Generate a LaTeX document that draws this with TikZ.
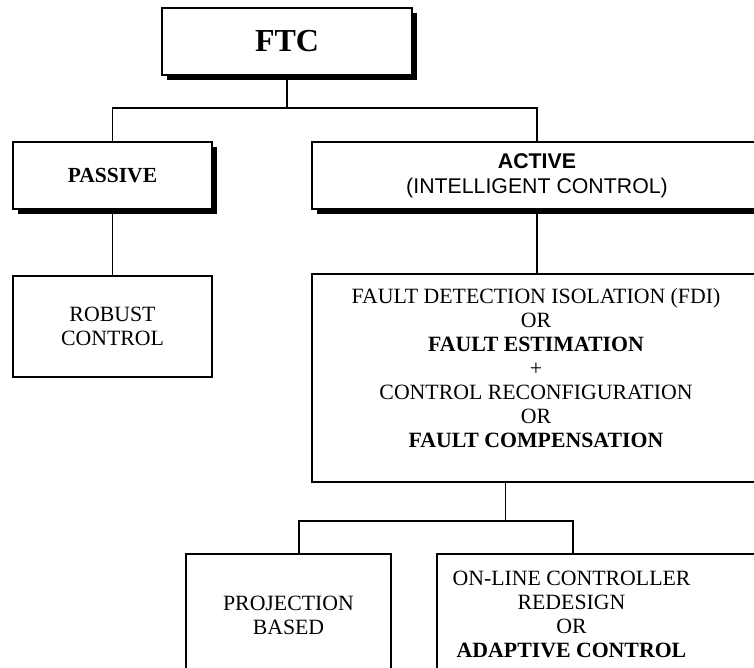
\documentclass[tikz,border=0pt]{standalone}
\usepackage{fontspec}
\setmainfont{Liberation Serif}
\newfontfamily\arialfont{Liberation Sans}
\usetikzlibrary{shadows}
\begin{document}
\begin{tikzpicture}[x=1pt,y=-1pt,
  box/.style={draw, line width=1.8pt, fill=white, inner sep=0pt, align=center,
    font=\fontsize{21.8}{24}\selectfont},
  shadowbox/.style={box, drop shadow={shadow xshift=5pt, shadow yshift=-5pt,
    fill=black, opacity=1}},
  boxtext/.style={inner sep=0pt, align=center, font=\fontsize{21.8}{24}\selectfont},
  link/.style={line width=1.8pt},
  thinlink/.style={line width=1pt}]
\useasboundingbox (0,0) rectangle (754,668);
\clip (0,0) rectangle (754,668);

% top level
\node[shadowbox, minimum width=250pt, minimum height=67pt,
  font=\fontsize{32}{36}\selectfont\bfseries] (ftc) at (287,41.5) {FTC};

% second level
\node[shadowbox, minimum width=199pt, minimum height=67pt, font=\fontsize{21.5}{24}\selectfont\bfseries]
  (pas) at (112.5,175.5) {PASSIVE};
\node[shadowbox, minimum width=450pt, minimum height=67pt,
  font=\fontsize{21.3}{25}\selectfont\arialfont]
  (act) at (537,175.5) {\textbf{ACTIVE}\\(INTELLIGENT CONTROL)};

% third level
\node[box, minimum width=199pt, minimum height=101pt] (rob) at (112.5,326.5)
  {ROBUST\\CONTROL};
\node[box, minimum width=450pt, minimum height=208pt] (fdi) at (537,378) {};
\node[boxtext] (fditxt) at (536,368) {FAULT DETECTION ISOLATION (FDI)\\OR\\
  \textbf{FAULT ESTIMATION}\\+\\CONTROL RECONFIGURATION\\OR\\
  \textbf{FAULT COMPENSATION}};

% fourth level
\node[box, minimum width=205pt, minimum height=123pt] (proj) at (288.5,615.5)
  {PROJECTION\\BASED};
\node[box, minimum width=363pt, minimum height=120pt] (onl) at (618.5,614) {};
\node[boxtext] (onltxt) at (571.5,614) {ON-LINE CONTROLLER\\REDESIGN\\OR\\
  \textbf{ADAPTIVE CONTROL}};

% junctions
\coordinate (j0) at (287,108);
\coordinate (j1) at (505,521);
\coordinate (j2) at (299,521);
\coordinate (j3) at (573,521);

% connectors
\draw[link] (ftc.south) -- (j0);
\draw[link] (pas.north) |- (j0) -| (act.north);
\draw[link] (pas.south) -- (rob.north);
\draw[link] (act.south) -- (fdi.north);
\draw[thinlink] (fdi.south -| j1) -- (j1);
\draw[link] (proj.north -| j2) -- (j2) -- (j3) -- (onl.north -| j3);
\end{tikzpicture}
\end{document}
